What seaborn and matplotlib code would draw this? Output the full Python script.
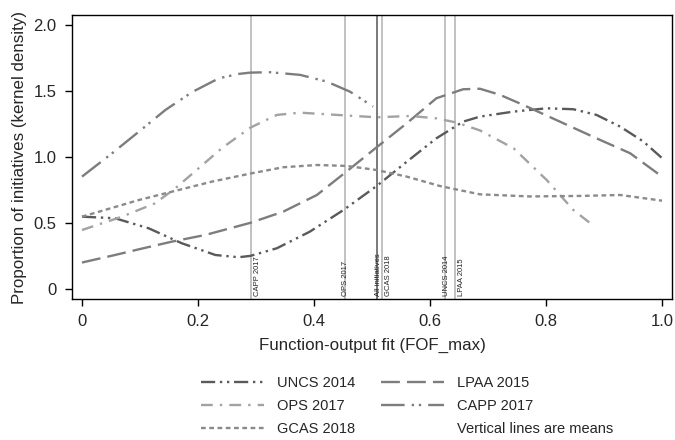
import numpy as np
import pandas as pd
import seaborn as sns
import matplotlib.pyplot as plt
from matplotlib.lines import Line2D

# kernel density curves
uncs_x = [0, 0.057, 0.115, 0.172, 0.23, 0.27, 0.29, 0.336, 0.393, 0.451, 0.508, 0.56, 0.611, 0.657, 0.686,
          0.744, 0.801, 0.847, 0.887, 0.928, 0.968, 1.0]
uncs_y = [0.547, 0.535, 0.459, 0.346, 0.257, 0.24, 0.25, 0.308, 0.434, 0.598, 0.779, 0.963, 1.14, 1.266, 1.304,
          1.342, 1.367, 1.36, 1.317, 1.228, 1.115, 0.99]

lpaa_x = [0, 0.057, 0.098, 0.155, 0.213, 0.29, 0.347, 0.405, 0.456, 0.508, 0.56, 0.611, 0.657, 0.686, 0.72,
          0.761, 0.83, 0.887, 0.945, 1.0]
lpaa_y = [0.2, 0.257, 0.30, 0.358, 0.409, 0.50, 0.585, 0.711, 0.888, 1.072, 1.254, 1.443, 1.511, 1.515, 1.47,
          1.392, 1.254, 1.14, 1.027, 0.85]

ops_x = [0, 0.069, 0.126, 0.161, 0.201, 0.241, 0.29, 0.336, 0.376, 0.439, 0.508, 0.566, 0.611, 0.646, 0.686,
         0.744, 0.801, 0.847, 0.884]
ops_y = [0.446, 0.547, 0.648, 0.762, 0.913, 1.065, 1.22, 1.317, 1.334, 1.317, 1.299, 1.309, 1.291, 1.259, 1.20,
         1.065, 0.825, 0.598, 0.471]

capp_x = [0, 0.052, 0.098, 0.144, 0.19, 0.236, 0.27, 0.29, 0.324, 0.376, 0.422, 0.462, 0.502]
capp_y = [0.85, 1.027, 1.19, 1.355, 1.49, 1.594, 1.627, 1.637, 1.64, 1.62, 1.569, 1.493, 1.38]

gcas_x = [0, 0.098, 0.155, 0.224, 0.29, 0.347, 0.405, 0.456, 0.508, 0.56, 0.617, 0.686, 0.772, 0.859, 0.928, 1.0]
gcas_y = [0.547, 0.673, 0.736, 0.812, 0.873, 0.921, 0.938, 0.931, 0.90, 0.85, 0.779, 0.716, 0.70, 0.704, 0.711, 0.668]

# means (vertical lines)
mean_labels = ["CAPP 2017", "OPS 2017", "All initiatives", "GCAS 2018", "UNCS 2014", "LPAA 2015"]
mean_values = [0.291, 0.453, 0.509, 0.518, 0.626, 0.643]
mean_side = ["right", "left", "left", "right", "left", "right"]

sns.set_style("ticks")
plt.rcParams["font.family"] = ["Liberation Sans", "DejaVu Sans"]

fig = plt.figure(figsize=(6.75, 4.4), dpi=100)
ax = fig.add_axes([72 / 675, 1 - 299 / 440, 600 / 675, 284 / 440])

# vertical mean lines
for lab, m, side in zip(mean_labels, mean_values, mean_side):
    col = "#555555" if lab == "All initiatives" else "#b0b0b0"
    ax.axvline(m, color=col, lw=1.1, zorder=1)
    off = 0.005 if side == "right" else -0.004
    ax.text(m + off, -0.055, lab, rotation=90, fontsize=5.5, ha=side if side == "left" else "left",
            va="bottom", color="#222222")

series = [
    ("UNCS 2014", uncs_x, uncs_y, "#5a5a5a", (0, (6, 2, 1, 2, 1, 2))),
    ("LPAA 2015", lpaa_x, lpaa_y, "#7d7d7d", (0, (8, 3))),
    ("OPS 2017", ops_x, ops_y, "#a2a2a2", (0, (5, 3, 1, 3))),
    ("CAPP 2017", capp_x, capp_y, "#7d7d7d", (0, (10, 3, 1, 2, 1, 3))),
    ("GCAS 2018", gcas_x, gcas_y, "#8a8a8a", (0, (2, 1.5))),
]

handles = {}
for name, xs, ys, col, ls in series:
    df = pd.DataFrame({"x": xs, "y": ys})
    sns.lineplot(data=df, x="x", y="y", ax=ax, color=col, lw=1.7, linestyle=ls,
                 errorbar=None, zorder=3)
    handles[name] = Line2D([], [], color=col, lw=1.7, linestyle=ls)

ax.set_xlim(-0.0172, 1.0172)
ax.set_ylim(-0.076, 2.073)
ax.set_xticks([0, 0.2, 0.4, 0.6, 0.8, 1.0])
ax.set_xticklabels(["0", "0.2", "0.4", "0.6", "0.8", "1.0"])
ax.set_yticks([0, 0.5, 1.0, 1.5, 2.0])
ax.set_yticklabels(["0", "0.5", "1.0", "1.5", "2.0"])
ax.tick_params(labelsize=12, length=5, width=1, color="black", pad=6)
ax.set_xlabel("Function-output fit (FOF_max)", fontsize=12.2, labelpad=6)
ax.set_ylabel("Proportion of initiatives (kernel density)", fontsize=12.2, labelpad=5)
for sp in ax.spines.values():
    sp.set_color("black")
    sp.set_linewidth(1)

blank = Line2D([], [], color="none")
order = ["UNCS 2014", "OPS 2017", "GCAS 2018", "LPAA 2015", "CAPP 2017"]
leg_handles = [handles[n] for n in order] + [blank]
leg_labels = order + ["Vertical lines are means"]
fig.legend(leg_handles, leg_labels, loc="upper left", bbox_to_anchor=(201 / 675, 1 - 376 / 440),
           ncol=2, frameon=False, fontsize=10.5, handlelength=4.3, handletextpad=0.9,
           columnspacing=1.8, labelspacing=0.62, borderpad=0, borderaxespad=0)

fig.savefig("out.png", dpi=100)
